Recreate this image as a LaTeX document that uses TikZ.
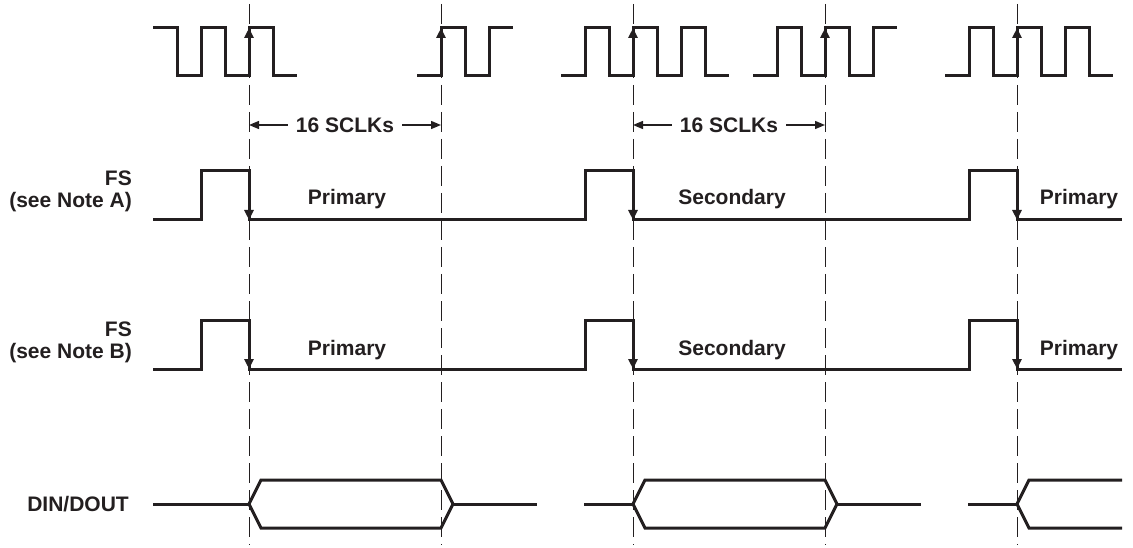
\documentclass[tikz,border=0pt]{standalone}
\usepackage{fontspec}
\setmainfont{Liberation Sans}
\usetikzlibrary{arrows.meta}
\definecolor{ink}{HTML}{231F20}
\begin{document}
\begin{tikzpicture}[x=1pt,y=-1pt,
  sig/.style={draw=ink,line width=3pt,line join=miter},
  guide/.style={draw=ink,line width=1pt,dash pattern=on 20pt off 7pt},
  edgearr/.style={draw=ink,line width=3pt,-{Triangle[length=10pt,width=9pt]}},
  dimarr/.style={draw=ink,line width=1.4pt,-{Triangle[length=10pt,width=8pt]}},
  lbl/.style={text=ink,font=\fontsize{21}{25}\selectfont\bfseries,inner sep=0pt}]
\useasboundingbox (0,0) rectangle (1133,548);
% guide coordinates
\foreach \n/\x in {1/249,2/441,3/633,4/825,5/1017}{
  \coordinate (top\n) at (\x,4);
  \coordinate (bot\n) at (\x,545);
}
\foreach \n in {1,...,5}{ \draw[guide] (top\n) -- (bot\n); }
% clock
\draw[sig] (153,28) -- (177,28) -- (177,76) -- (201,76) -- (201,28) -- (225,28) -- (225,76) -- (249,76) -- (249,28) -- (273,28) -- (273,76) -- (297,76);
\draw[sig] (417,76) -- (441,76) -- (441,28) -- (465,28) -- (465,76) -- (489,76) -- (489,28) -- (513,28);
\draw[sig] (561,76) -- (585,76) -- (585,28) -- (609,28) -- (609,76) -- (633,76) -- (633,28) -- (657,28) -- (657,76) -- (681,76) -- (681,28) -- (705,28) -- (705,76) -- (729,76);
\draw[sig] (753,76) -- (777,76) -- (777,28) -- (801,28) -- (801,76) -- (825,76) -- (825,28) -- (849,28) -- (849,76) -- (873,76) -- (873,28) -- (897,28);
\draw[sig] (945,76) -- (969,76) -- (969,28) -- (993,28) -- (993,76) -- (1017,76) -- (1017,28) -- (1041,28) -- (1041,76) -- (1065,76) -- (1065,28) -- (1089,28) -- (1089,76) -- (1113,76);
\foreach \x in {249,441,633,825,1017}{ \draw[edgearr] (\x,60) -- (\x,28); }
% 16 SCLKs
\coordinate (la) at (249,125); \coordinate (ra) at (441,125);
\coordinate (lb) at (633,125); \coordinate (rb) at (825,125);
\node[lbl,inner xsep=8pt] (c1) at (345,125) {16 SCLKs};
\node[lbl,inner xsep=8pt] (c2) at (729,125) {16 SCLKs};
\draw[dimarr] (c1.west) -- (la);
\draw[dimarr] (c1.east) -- (ra);
\draw[dimarr] (c2.west) -- (lb);
\draw[dimarr] (c2.east) -- (rb);
% FS A
\draw[sig] (153,220) -- (201,220) -- (201,171) -- (249,171) -- (249,220) -- (585,220) -- (585,171) -- (633,171) -- (633,220) -- (969,220) -- (969,171) -- (1017,171) -- (1017,220) -- (1122,220);
\foreach \x in {249,633,1017}{ \draw[edgearr] (\x,190) -- (\x,220); }
\node[lbl,anchor=base east] (fsA) at (132,186) {FS};
\node[lbl,anchor=base east] (noteA) at (132,208) {(see Note A)};
\node[lbl,anchor=base] (pA1) at (347,205) {Primary};
\node[lbl,anchor=base] (sA) at (732,205) {Secondary};
\node[lbl,anchor=base] (pA2) at (1079,205) {Primary};
% FS B
\draw[sig] (153,369) -- (201,369) -- (201,320) -- (249,320) -- (249,369) -- (585,369) -- (585,320) -- (633,320) -- (633,369) -- (969,369) -- (969,320) -- (1017,320) -- (1017,369) -- (1122,369);
\foreach \x in {249,633,1017}{ \draw[edgearr] (\x,339) -- (\x,369); }
\node[lbl,anchor=base east] (fsB) at (132,336) {FS};
\node[lbl,anchor=base east] (noteB) at (132,358) {(see Note B)};
\node[lbl,anchor=base] (pB1) at (347,355) {Primary};
\node[lbl,anchor=base] (sB) at (732,355) {Secondary};
\node[lbl,anchor=base] (pB2) at (1079,355) {Primary};
% DIN/DOUT
\node[lbl,anchor=base east] (din) at (129,511.5) {DIN/DOUT};
\draw[sig] (153,504) -- (249,504);
\draw[sig] (249,504) -- (261,480) -- (441,480) -- (453,504) -- (441,528) -- (261,528) -- cycle;
\draw[sig] (453,504) -- (537,504);
\draw[sig] (584,504) -- (633,504);
\draw[sig] (633,504) -- (645,480) -- (825,480) -- (837,504) -- (825,528) -- (645,528) -- cycle;
\draw[sig] (837,504) -- (921,504);
\draw[sig] (968,504) -- (1017,504);
\draw[sig] (1122,480) -- (1029,480) -- (1017,504) -- (1029,528) -- (1122,528);
\end{tikzpicture}
\end{document}
